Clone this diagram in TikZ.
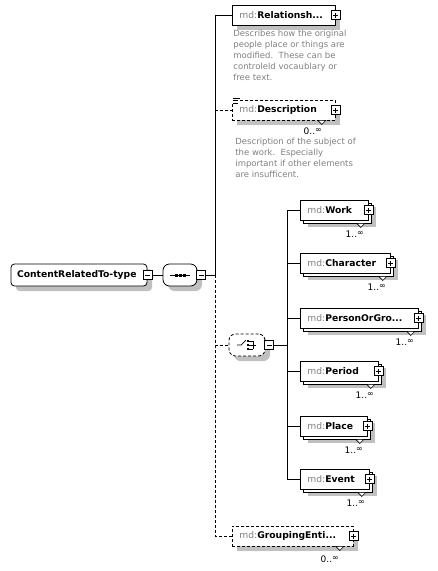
\documentclass[tikz,border=0pt]{standalone}
\usepackage{fontspec}
\setmainfont{DejaVu Sans}
\usepackage{tikz}
\usetikzlibrary{calc}
\usetikzlibrary{positioning}
\usetikzlibrary{shadows}
\definecolor{docgray}{RGB}{128,128,128}
\definecolor{shade}{RGB}{192,192,192}
\tikzstyle{element}=[draw=black,fill=white,anchor=west,minimum height=20,inner xsep=7,inner ysep=0,align=left,
                     font=\fontsize{9.2}{10}\selectfont]
\tikzstyle{single}=[drop shadow={shadow xshift=5pt,shadow yshift=-5pt,fill=shade,draw=none,opacity=1}]
\tikzstyle{multi}=[drop shadow={shadow xshift=8pt,shadow yshift=-7pt,fill=shade,draw=none,opacity=1},
                   copy shadow={shadow xshift=3pt,shadow yshift=-3pt,fill=white,draw=black,opacity=1}]
\tikzstyle{optional}=[dash pattern=on 3pt off 2pt]
\tikzstyle{typebox}=[rectangle,rounded corners=3.5pt,draw=black,fill=white,minimum height=22,inner xsep=6,inner ysep=0,
                     font=\fontsize{9.2}{10}\selectfont,
                     drop shadow={shadow xshift=5pt,shadow yshift=-5pt,fill=shade,draw=none,opacity=1}]
\tikzstyle{compositor}=[rectangle,rounded corners=6.5pt,draw=black,fill=white,minimum height=22,inner sep=0,
                        drop shadow={shadow xshift=5pt,shadow yshift=-5pt,fill=shade,draw=none,opacity=1}]
\tikzstyle{btn}=[rectangle,draw=black,fill=white,minimum size=9,inner sep=0,line width=0.7pt,sharp corners]
\tikzstyle{plusbtn}=[btn,path picture={
    \draw ([xshift=2pt]path picture bounding box.west) -- ([xshift=-2pt]path picture bounding box.east);
    \draw ([yshift=-2pt]path picture bounding box.north) -- ([yshift=2pt]path picture bounding box.south);}]
\tikzstyle{minusbtn}=[btn,path picture={
    \draw ([xshift=2pt]path picture bounding box.west) -- ([xshift=-2pt]path picture bounding box.east);}]
\tikzstyle{caret}=[draw=black,fill=white,line width=0.6pt]
\tikzstyle{card}=[inner sep=0,font=\fontsize{9}{10}\selectfont]
\tikzstyle{doc}=[anchor=north west,text=docgray,align=left,inner sep=0,font=\fontsize{8.5}{11}\selectfont]

\begin{document}
\begin{tikzpicture}[x=1pt,y=-1pt,line width=0.8pt]
        \useasboundingbox (0,0) rectangle (438,571);

        \def\nsmd{\textcolor{docgray}{md:}}
        \def\infsym{\raisebox{2pt}{\fontsize{8}{8}\selectfont ∞}}
        \coordinate (bus) at (215,275); % main branch line
        \coordinate (cbus) at (287,345); % choice branch line

        % COMPLEX TYPE
        \node[typebox,text width=124pt,align=left] (type) at (79,275) {\textbf{ContentRelatedTo-type}};
        \node[minusbtn] (typebtn) at (type.east) {};

        % SEQUENCE
        \node[compositor,minimum width=34] (seq) at (180,275) {};
        \node[minusbtn,right=-1pt of seq] (seqbtn) {};
        \draw[line width=0.9pt] ($(seq.center)+(-10,0)$) -- ($(seq.center)+(10,0)$);
        \foreach \dx in {-4,0,4}
          \fill ($(seq.center)+(\dx-1.5,-1.5)$) rectangle ++(3,3);
        \draw (typebtn) -- (seq);

        % ELEMENTS OF THE SEQUENCE
        \node[element,single,text width=89pt] (rel) at (232,15) {\nsmd\textbf{Relationsh...}};
        \node[plusbtn] (relbtn) at (rel.east) {};
        \node[doc] (reldoc) at (233,30) {Describes how the original\\people place or things are\\modified.\ \ These can be\\controleld vocaublary or\\free text.};

        \node[element,single,optional,text width=89pt] (desc) at (232,110) {\nsmd\textbf{Description}};
        \node[plusbtn] (descbtn) at (desc.east) {};
        \fill[white] (232,97) rectangle (240,104);
        \foreach \dy/\l in {98/7,100.5/5,103/5}
          \draw[line width=0.6pt] (233,\dy) -- ++(\l,0);
        \draw[caret] ($(desc.south east)+(-18,0)$) -- ++(4,4) -- ++(4,-4) -- cycle;
        \node[card] (desccard) at ($(desc.south east)+(-23,11)$) {0..\infsym};
        \node[doc] (descdoc) at (235,138) {Description of the subject of\\the work.\ \ Especially\\important if other elements\\are insufficent.};

        \node[element,single,optional,text width=107pt] (group) at (232,536) {\nsmd\textbf{GroupingEnti...}};
        \node[plusbtn] (groupbtn) at (group.east) {};
        \draw[caret] ($(group.south east)+(-18,0)$) -- ++(4,4) -- ++(4,-4) -- cycle;
        \node[card] (groupcard) at ($(group.south east)+(-24,13)$) {0..\infsym};

        % CHOICE
        \node[compositor,optional,minimum width=36] (choice) at (247,345) {};
        \node[minusbtn,right=-1pt of choice] (choicebtn) {};
        \draw[line width=0.7pt] ($(choice.center)+(-10,0)$) -- ++(4,0) -- ++(5,-5);
        \foreach \dy in {-4,0,4}{
          \fill ($(choice.center)+(0,\dy-1.2)$) rectangle ++(2.4,2.4);
          \draw[line width=0.6pt] ($(choice.center)+(2.4,\dy)$) -- ++(3.6,0);
        }
        \draw[line width=0.6pt] ($(choice.center)+(6,-4)$) -- ++(0,8);
        \draw[line width=0.6pt] ($(choice.center)+(6,0)$) -- ++(3,0);

        % BRANCHES
        \draw (seqbtn) -- (bus);
        \draw (bus) |- (rel.west);
        \draw[optional] (bus) |- (desc.west);
        \draw[optional] (bus) |- (choice.west);
        \draw[optional] (bus) |- (group.west);
        \draw (choicebtn) -- (cbus);

        % ELEMENTS OF THE CHOICE
        \foreach \n/\t/\y/\w in {work/Work/210/54, character/Character/263/76, person/{PersonOrGro...}/318/104,
                                 period/Period/371/64, place/Place/426/53, event/Event/479/55}{
          \node[element,multi,text width=\w pt] (\n) at (300,\y) {\nsmd\textbf{\t}};
          \node[plusbtn] (\n btn) at (\n.east) {};
          \draw[caret] ($(\n.south east)+(-12,3)$) -- ++(4,4) -- ++(4,-4) -- cycle;
          \node[card] (\n card) at ($(\n.south east)+(-14,14)$) {1..\infsym};
          \draw (cbus) |- (\n.west);
        }

\end{tikzpicture}
\end{document}
